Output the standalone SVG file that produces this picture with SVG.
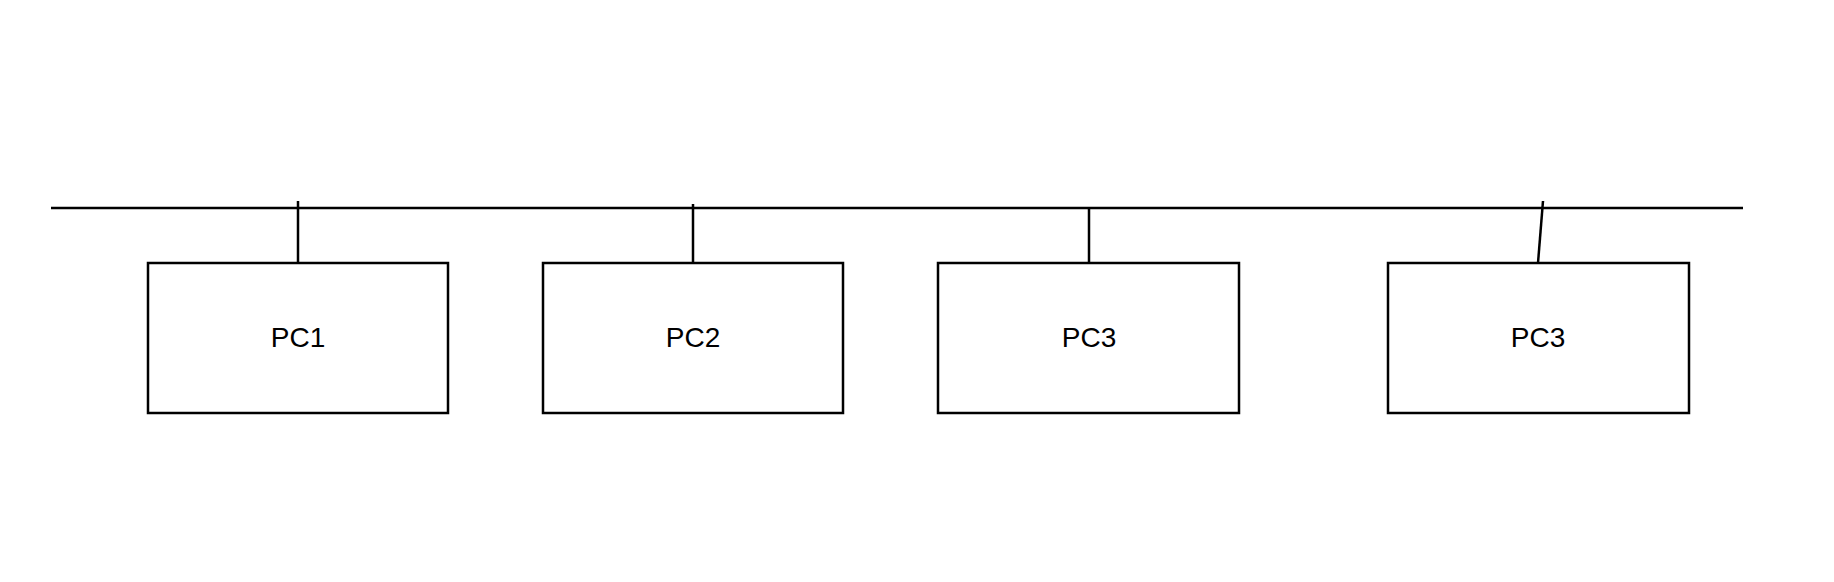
<svg xmlns="http://www.w3.org/2000/svg" width="1834" height="582" viewBox="0 0 1834 582">
<style>
.box{fill:#fff;stroke:#000;stroke-width:2.5}
.ln{stroke:#000;stroke-width:2.5;fill:none}
.lbl{font-family:"Liberation Sans",Arial,sans-serif;font-size:28px;fill:#000;text-anchor:middle}
</style>
<rect width="1834" height="582" fill="#fff"/>
<g id="connectors">
<line class="ln" x1="51" y1="208" x2="1743" y2="208"/>
<line class="ln" x1="298" y1="201" x2="298" y2="263"/>
<line class="ln" x1="693" y1="204" x2="693" y2="263"/>
<line class="ln" x1="1089" y1="208" x2="1089" y2="263"/>
<line class="ln" x1="1543" y1="201" x2="1538" y2="263"/>
</g>
<g id="pc1"><rect class="box" x="148" y="263" width="300" height="150"/><text class="lbl" x="298" y="347">PC1</text></g>
<g id="pc2"><rect class="box" x="543" y="263" width="300" height="150"/><text class="lbl" x="693" y="347">PC2</text></g>
<g id="pc3"><rect class="box" x="938" y="263" width="301" height="150"/><text class="lbl" x="1089" y="347">PC3</text></g>
<g id="pc3b"><rect class="box" x="1388" y="263" width="301" height="150"/><text class="lbl" x="1538" y="347">PC3</text></g>
</svg>
